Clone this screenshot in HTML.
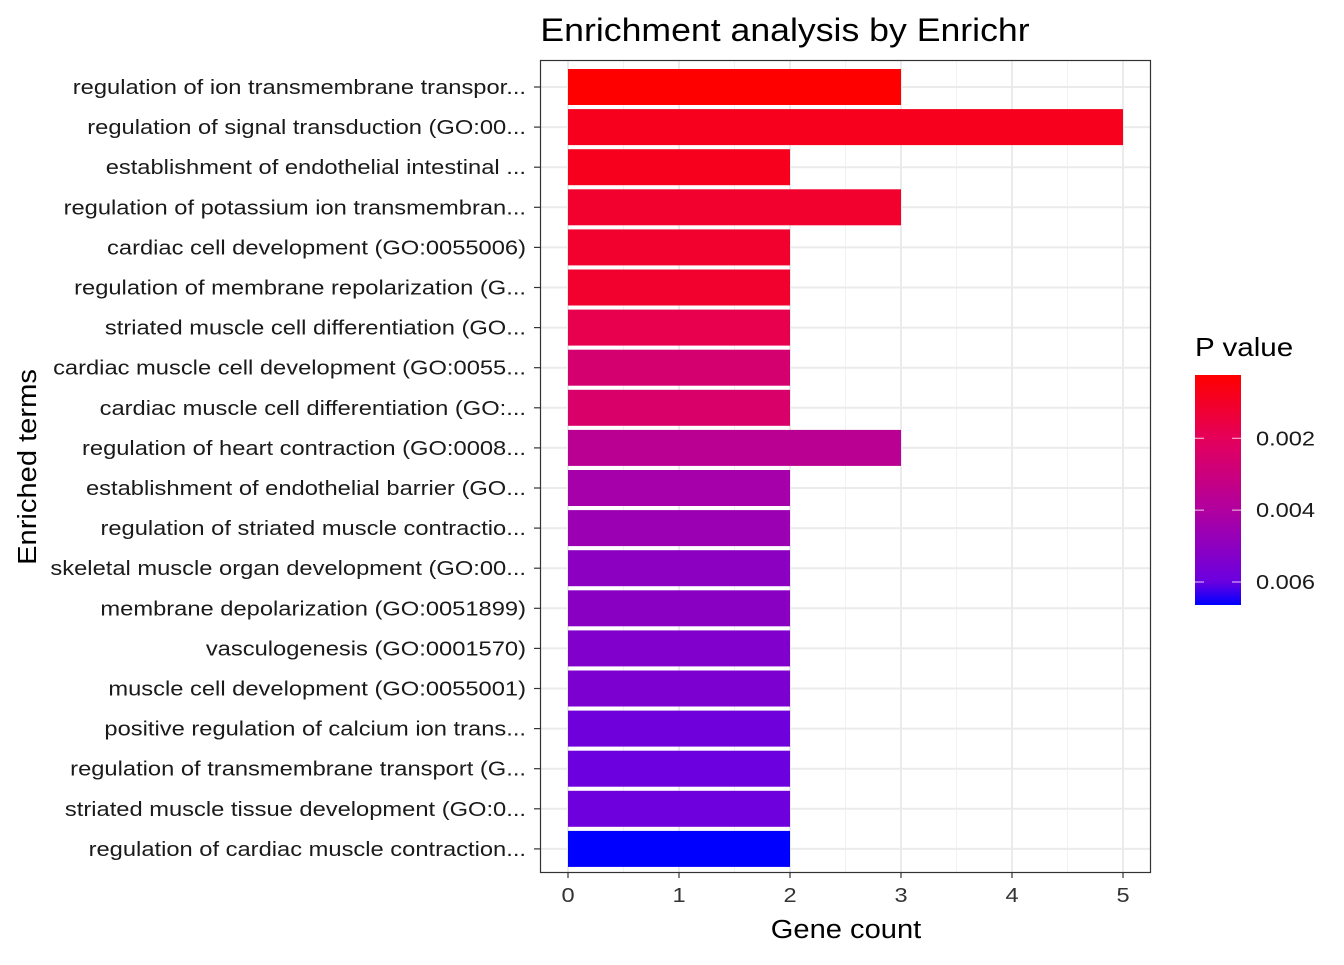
<!DOCTYPE html>
<html><head><meta charset="utf-8"><style>
body{margin:0;background:#fff;}
svg text{font-family:"Liberation Sans",Arial,sans-serif;}
</style></head><body>
<svg id="chart" width="1344" height="960" xmlns="http://www.w3.org/2000/svg">
<defs><linearGradient id="lg" x1="0" y1="0" x2="0" y2="1"></linearGradient></defs>
<rect width="1344" height="960" fill="#fff"/>
<text transform="translate(785,41) scale(1.114,1)" font-size="32" text-anchor="middle">Enrichment analysis by Enrichr</text>
<g id="grid"></g><g id="bars"></g>
<rect x="540.5" y="60.5" width="610" height="812" fill="none" stroke="#333" stroke-width="1.2"/>
<g id="axes"></g>
<text transform="translate(846,938) scale(1.12,1)" font-size="26" text-anchor="middle">Gene count</text>
<text transform="translate(36,467) rotate(-90) scale(1.12,1)" font-size="26" text-anchor="middle">Enriched terms</text>
<g id="legend">
<text transform="translate(1195,356) scale(1.14,1)" font-size="26">P value</text>
<rect x="1195" y="375" width="46" height="230" fill="url(#lg)"/>
</g>
</svg>
<script>
const terms=["regulation of ion transmembrane transpor...","regulation of signal transduction (GO:00...","establishment of endothelial intestinal ...","regulation of potassium ion transmembran...","cardiac cell development (GO:0055006)","regulation of membrane repolarization (G...","striated muscle cell differentiation (GO...","cardiac muscle cell development (GO:0055...","cardiac muscle cell differentiation (GO:...","regulation of heart contraction (GO:0008...","establishment of endothelial barrier (GO...","regulation of striated muscle contractio...","skeletal muscle organ development (GO:00...","membrane depolarization (GO:0051899)","vasculogenesis (GO:0001570)","muscle cell development (GO:0055001)","positive regulation of calcium ion trans...","regulation of transmembrane transport (G...","striated muscle tissue development (GO:0...","regulation of cardiac muscle contraction..."];
const counts=[3,5,2,3,2,2,2,2,2,3,2,2,2,2,2,2,2,2,2,2];
const pvals=[0.00024,0.00082,0.00082,0.00114,0.00114,0.00114,0.00178,0.00261,0.00242,0.00363,0.00434,0.00459,0.00504,0.0051,0.00536,0.00549,0.00587,0.00594,0.0059,0.00664];
const xTicks=[0,1,2,3,4,5];
const legendTicks=[0.002,0.004,0.006];
const pMin=0.00024,pMax=0.00664;
const NS="http://www.w3.org/2000/svg";
const x=v=>568+v*111;
const y=i=>87+i*40.1;
const lgY=p=>375+(p-pMin)/(pMax-pMin)*230;
const stopsT=[0,0.275,0.59,0.9,1];
const stopsR=[255,229,176,106,0];
const stopsB=[0,90,160,224,255];
function col(p){let t=(p-pMin)/(pMax-pMin);t=Math.max(0,Math.min(1,t));
let k=0;while(k<stopsT.length-2&&t>stopsT[k+1])k++;
const f=(t-stopsT[k])/(stopsT[k+1]-stopsT[k]);
const r=Math.round(stopsR[k]+(stopsR[k+1]-stopsR[k])*f),b=Math.round(stopsB[k]+(stopsB[k+1]-stopsB[k])*f);
return `rgb(${r},0,${b})`;}
function mk(tag,attrs,parent){const e=document.createElementNS(NS,tag);for(const k in attrs)e.setAttribute(k,attrs[k]);parent.appendChild(e);return e;}
const grid=document.getElementById('grid'),bars=document.getElementById('bars'),axes=document.getElementById('axes');
mk('rect',{x:540,y:60,width:610,height:812,fill:'#fff'},grid);
for(let i=0;i<xTicks.length-1;i++){const l=mk('line',{x1:x(xTicks[i]+0.5),x2:x(xTicks[i]+0.5),y1:60,y2:872,stroke:'#f2f2f2','stroke-width':1},grid);

}
xTicks.forEach(v=>{const l=mk('line',{x1:x(v),x2:x(v),y1:60,y2:872,stroke:'#ebebeb','stroke-width':2},grid);


const t=mk('line',{x1:x(v),x2:x(v),y1:872,y2:878,stroke:'#333','stroke-width':1.2},axes);


const tx=mk('text',{transform:`translate(${x(v)},902) scale(1.18,1)`,'font-size':20,'text-anchor':'middle',fill:'#333'},axes);tx.textContent=v;

});
terms.forEach((term,i)=>{const l=mk('line',{x1:540,x2:1150,y1:y(i),y2:y(i),stroke:'#ebebeb','stroke-width':2},grid);


const r=mk('rect',{x:x(0),y:y(i)-18,width:x(counts[i])-x(0),height:36,fill:col(pvals[i])},bars);


const t=mk('line',{x1:534,x2:540,y1:y(i),y2:y(i),stroke:'#333','stroke-width':1.2},axes);


const tx=mk('text',{transform:`translate(526,${y(i)+7}) scale(1.186,1)`,'font-size':20,'text-anchor':'end',fill:'#1a1a1a'},axes);tx.textContent=term;

});
const lg=document.getElementById('lg');
for(let k=0;k<=40;k++){mk('stop',{offset:(k/40),'stop-color':col(pMin+(pMax-pMin)*k/40)},lg);}
const leg=document.getElementById('legend');
legendTicks.forEach(p=>{const yy=lgY(p);
const a=mk('line',{x1:1195,x2:1204,y1:yy,y2:yy,stroke:'#fff','stroke-width':1,opacity:0.8},leg);


const b=mk('line',{x1:1232,x2:1241,y1:yy,y2:yy,stroke:'#fff','stroke-width':1,opacity:0.8},leg);


const t=mk('text',{transform:`translate(1256,${yy+7}) scale(1.18,1)`,'font-size':20,fill:'#1a1a1a'},leg);t.textContent=p.toFixed(3);

});
</script>
</body></html>
